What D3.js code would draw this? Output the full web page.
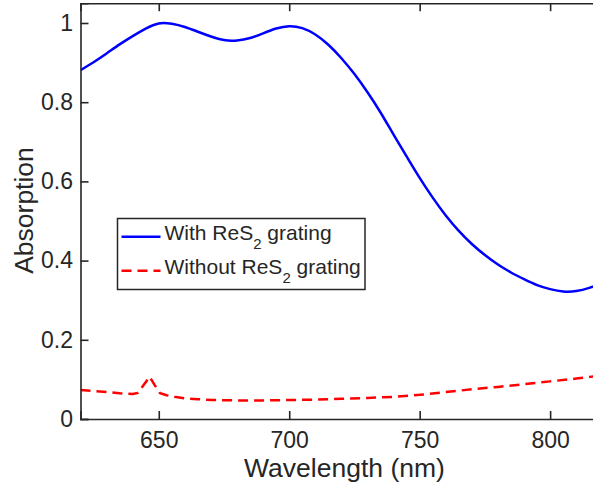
<!DOCTYPE html>
<html>
<head>
<meta charset="utf-8">
<script src="https://cdn.jsdelivr.net/npm/d3@7"></script>
<style>
  body { margin: 0; background: #fff; }
  text { font-family: "Liberation Sans", Arial, sans-serif; fill: #262626; }
</style>
</head>
<body>
<div id="chart"></div>
<script>
// wavelength grid (nm) and absorption values
const wlWith = [620,625,630,635,640,645,650,655,660,665,670,675,680,685,690,695,700,705,710,715,720,725,730,735,740,745,750,755,760,765,770,775,780,785,790,795,800,805,810,815,820];
const absWith = [0.881,0.901,0.923,0.946,0.967,0.986,0.999,0.998,0.990,0.978,0.966,0.957,0.956,0.962,0.974,0.986,0.992,0.987,0.971,0.945,0.911,0.871,0.825,0.774,0.718,0.663,0.609,0.559,0.514,0.475,0.442,0.414,0.390,0.370,0.353,0.338,0.328,0.322,0.323,0.331,0.343];

const wlWithout = [620,625,630,635,640,642,644,646.5,648.5,650.5,653,656,660,665,670,680,690,700,710,720,730,740,750,760,770,780,790,800,810,816,820];
const absWithout = [0.073,0.071,0.068,0.065,0.063,0.066,0.084,0.107,0.085,0.065,0.060,0.056,0.052,0.050,0.048,0.047,0.047,0.048,0.049,0.051,0.053,0.056,0.061,0.068,0.075,0.081,0.088,0.095,0.102,0.107,0.11];

const xTicks = [650, 700, 750, 800];
const yTicks = [0, 0.2, 0.4, 0.6, 0.8, 1];
const seriesNames = ['With ReS', 'Without ReS'];

const W = 593, H = 491;
const svg = d3.select('#chart').append('svg').attr('width', W).attr('height', H);

const x = d3.scaleLinear().domain([620, 820]).range([80.5, 602.3]);
const y = d3.scaleLinear().domain([0, 1.05]).range([419, 3.2]);

const axisColor = '#262626';
svg.append('clipPath').attr('id', 'clip')
  .append('rect').attr('x', x(620)).attr('y', y(1.05)).attr('width', x(820) - x(620)).attr('height', y(0) - y(1.05));

const plot = svg.append('g').attr('clip-path', 'url(#clip)');
plot.append('path')
  .datum(d3.zip(wlWith, absWith))
  .attr('d', d3.line().x(d => x(d[0])).y(d => y(d[1])).curve(d3.curveNatural))
  .attr('fill', 'none').attr('stroke', '#0000ff').attr('stroke-width', 2.5);
plot.append('path')
  .datum(d3.zip(wlWithout, absWithout))
  .attr('d', d3.line().x(d => x(d[0])).y(d => y(d[1])))
  .attr('fill', 'none').attr('stroke', '#ff0000').attr('stroke-width', 2.5).attr('stroke-dasharray', '10,6');

// axes (ticks inside, mirrored box)
const fmt = d => d === 0 ? '0' : d === 1 ? '1' : d3.format('.1f')(d);
const gx = svg.append('g').attr('transform', `translate(0,${y(0)})`)
  .call(d3.axisBottom(x).tickValues(xTicks).tickSize(-8).tickPadding(13).tickFormat(d3.format('d')));
const gxTop = svg.append('g').attr('transform', `translate(0,${y(1.05)})`)
  .call(d3.axisTop(x).tickValues(xTicks).tickSize(-8).tickFormat(''));
const gy = svg.append('g').attr('transform', `translate(${x(620)},0)`)
  .call(d3.axisLeft(y).tickValues(yTicks).tickSize(-8).tickPadding(7.5).tickFormat(fmt));
const gyRight = svg.append('g').attr('transform', `translate(${x(820)},0)`)
  .call(d3.axisRight(y).tickValues(yTicks).tickSize(-8).tickFormat(''));

[gx, gxTop, gy, gyRight].forEach(g => {
  g.select('.domain').attr('stroke', axisColor).attr('stroke-width', 1.6);
  g.selectAll('.tick line').attr('stroke', axisColor).attr('stroke-width', 1.6);
  g.selectAll('.tick text').attr('font-size', 23).attr('fill', axisColor)
    .style('font-family', '"Liberation Sans", Arial, sans-serif');
});

svg.append('text').attr('x', 344.5).attr('y', 477).attr('text-anchor', 'middle')
  .attr('font-size', 26.5).text('Wavelength (nm)');
svg.append('text').attr('transform', 'translate(33,210.5) rotate(-90)').attr('text-anchor', 'middle')
  .attr('font-size', 26.5).text('Absorption');

// legend
const lg = svg.append('g');
lg.append('rect').attr('x', 117.5).attr('y', 218.5).attr('width', 247.5).attr('height', 71)
  .attr('fill', '#fff').attr('stroke', axisColor).attr('stroke-width', 1.5);
const items = [
  {name: seriesNames[0], color: '#0000ff', dash: null, yy: 236.7},
  {name: seriesNames[1], color: '#ff0000', dash: '10,6', yy: 270.7}
];
items.forEach(it => {
  lg.append('line').attr('x1', 121.5).attr('x2', 160.5).attr('y1', it.yy).attr('y2', it.yy)
    .attr('stroke', it.color).attr('stroke-width', 2.5).attr('stroke-dasharray', it.dash);
  const t = lg.append('text').attr('x', 164.5).attr('y', it.yy + 2.8).attr('font-size', 21).attr('fill', '#000');
  t.append('tspan').text(it.name);
  t.append('tspan').attr('font-size', 15).attr('dy', 9).text('2');
  t.append('tspan').attr('dy', -9).text(' grating');
});
</script>
</body>
</html>
